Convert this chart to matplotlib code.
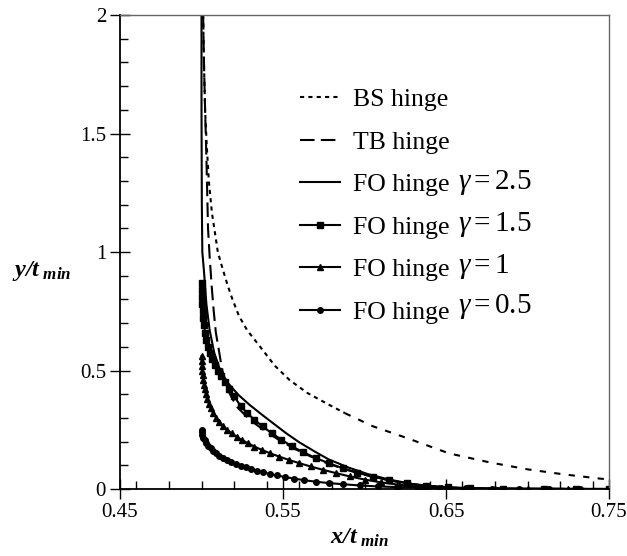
import matplotlib
matplotlib.use("Agg")
import matplotlib.pyplot as plt
from matplotlib.ticker import MultipleLocator, FixedLocator

plt.rcParams['font.family'] = ['Liberation Serif', 'DejaVu Serif']
plt.rcParams['mathtext.fontset'] = 'custom'
plt.rcParams['mathtext.rm'] = 'Liberation Serif'
plt.rcParams['mathtext.it'] = 'Liberation Serif:italic'
plt.rcParams['mathtext.bf'] = 'Liberation Serif:bold:italic'

# BS hinge
bs_x = [0.5010, 0.5015, 0.5022, 0.5032, 0.5045, 0.5064, 0.5085, 0.5100, 0.5125, 0.5160,
        0.5190, 0.5230, 0.5280, 0.5360, 0.5450, 0.5540, 0.5650, 0.5770, 0.5880, 0.6050,
        0.6260, 0.6520, 0.6770, 0.7000, 0.7220, 0.7430, 0.7500]
bs_y = [2.000, 1.800, 1.600, 1.450, 1.300, 1.165, 1.070, 1.000, 0.940, 0.860,
        0.800, 0.730, 0.670, 0.600, 0.520, 0.460, 0.405, 0.360, 0.320, 0.265,
        0.215, 0.150, 0.112, 0.083, 0.062, 0.045, 0.040]

# TB hinge
tb_x = [0.5010, 0.5015, 0.5022, 0.5030, 0.5040, 0.5050, 0.5062, 0.5075, 0.5088, 0.5103,
        0.5120, 0.5138, 0.5160, 0.5190, 0.5220, 0.5270, 0.5330, 0.5400, 0.5480, 0.5570,
        0.5670, 0.5780, 0.5900, 0.6030, 0.6170, 0.6320, 0.6480, 0.6650, 0.6900, 0.7500]
tb_y = [2.000, 1.800, 1.600, 1.400, 1.100, 0.980, 0.860, 0.750, 0.660, 0.600,
        0.530, 0.470, 0.420, 0.380, 0.345, 0.310, 0.275, 0.240, 0.205, 0.170,
        0.137, 0.106, 0.079, 0.055, 0.034, 0.018, 0.008, 0.003, 0.001, 0.000]

# FO hinge, gamma = 2.5
fo25_x = [0.5000, 0.5000, 0.5002, 0.5005, 0.5015, 0.5030, 0.5050, 0.5078, 0.5115, 0.5165,
          0.5225, 0.5295, 0.5370, 0.5440, 0.5520, 0.5600, 0.5690, 0.5780, 0.5900, 0.6020,
          0.6150, 0.6300, 0.6450, 0.6600, 0.6800, 0.7500]
fo25_y = [2.000, 1.600, 1.200, 1.000, 0.920, 0.780, 0.670, 0.575, 0.500, 0.445,
          0.398, 0.355, 0.314, 0.277, 0.235, 0.197, 0.160, 0.125, 0.091, 0.063,
          0.040, 0.020, 0.008, 0.003, 0.001, 0.000]

# FO hinge, gamma = 1.5
fo15_x = [0.5000, 0.5001, 0.5002, 0.5004, 0.5007, 0.5011, 0.5016, 0.5022, 0.5030, 0.5040,
          0.5052, 0.5066, 0.5082, 0.5100, 0.5120, 0.5143, 0.5170, 0.5200, 0.5240, 0.5280,
          0.5325, 0.5375, 0.5430, 0.5490, 0.5555, 0.5625, 0.5700, 0.5780, 0.5865, 0.5955,
          0.6050, 0.6150, 0.6260, 0.6380, 0.6510, 0.6650, 0.6850, 0.7100, 0.7300, 0.7500]
fo15_y = [0.870, 0.840, 0.810, 0.780, 0.750, 0.720, 0.690, 0.660, 0.630, 0.600,
          0.575, 0.550, 0.525, 0.500, 0.475, 0.450, 0.420, 0.392, 0.350, 0.320,
          0.292, 0.264, 0.236, 0.208, 0.180, 0.155, 0.131, 0.109, 0.088, 0.069,
          0.052, 0.037, 0.024, 0.014, 0.007, 0.003, 0.001, 0.000, 0.000, 0.000]

# FO hinge, gamma = 1
fo10_x = [0.5000, 0.5001, 0.5002, 0.5004, 0.5007, 0.5010, 0.5015, 0.5020, 0.5027, 0.5035,
          0.5045, 0.5057, 0.5072, 0.5090, 0.5110, 0.5132, 0.5157, 0.5185, 0.5215, 0.5248,
          0.5285, 0.5325, 0.5370, 0.5420, 0.5475, 0.5535, 0.5600, 0.5670, 0.5745, 0.5825,
          0.5910, 0.6000, 0.6100, 0.6210, 0.6330, 0.6460, 0.6600, 0.6800, 0.7000, 0.7250,
          0.7500]
fo10_y = [0.560, 0.540, 0.520, 0.500, 0.480, 0.460, 0.440, 0.420, 0.400, 0.380,
          0.360, 0.340, 0.320, 0.300, 0.282, 0.266, 0.250, 0.235, 0.221, 0.207,
          0.193, 0.179, 0.165, 0.151, 0.137, 0.123, 0.109, 0.095, 0.081, 0.067,
          0.053, 0.040, 0.028, 0.018, 0.010, 0.005, 0.002, 0.001, 0.000, 0.000,
          0.000]

# FO hinge, gamma = 0.5
fo05_x = [0.5000, 0.5002, 0.5006, 0.5012, 0.5020, 0.5030, 0.5042, 0.5056, 0.5072, 0.5090,
          0.5110, 0.5132, 0.5156, 0.5182, 0.5210, 0.5240, 0.5272, 0.5306, 0.5342, 0.5380,
          0.5420, 0.5465, 0.5515, 0.5570, 0.5630, 0.5700, 0.5780, 0.5870, 0.5970, 0.6080,
          0.6200, 0.6330, 0.6470, 0.6620, 0.6780, 0.6950, 0.7130, 0.7320, 0.7500]
fo05_y = [0.250, 0.240, 0.228, 0.217, 0.205, 0.193, 0.182, 0.171, 0.160, 0.150,
          0.141, 0.132, 0.123, 0.115, 0.107, 0.099, 0.091, 0.084, 0.077, 0.070,
          0.063, 0.057, 0.050, 0.044, 0.037, 0.031, 0.025, 0.020, 0.015, 0.011,
          0.008, 0.006, 0.004, 0.003, 0.002, 0.001, 0.001, 0.000, 0.000]

gammas = ['2.5', '1.5', '1', '0.5']
x_ticks = [0.45, 0.55, 0.65, 0.75]
y_ticks = [0, 0.5, 1, 1.5, 2]

fig = plt.figure(figsize=(6.27, 5.56), dpi=100)
ax = fig.add_axes([0.1914, 0.1205, 0.7799, 0.8525])

lw = 1.5
split = 19  # BS changes dash pattern after x ~ 0.59
l_bs, = ax.plot(bs_x[:split], bs_y[:split], color='black', lw=lw, dashes=(2, 2))
ax.plot(bs_x[split - 1:], bs_y[split - 1:], color='black', lw=lw, dashes=(3, 4))
l_tb, = ax.plot(tb_x, tb_y, color='black', lw=lw, dashes=(7, 3))
l_25, = ax.plot(fo25_x, fo25_y, color='black', lw=lw)
l_15, = ax.plot(fo15_x, fo15_y, color='black', lw=lw, marker='s', ms=4)
l_10, = ax.plot(fo10_x, fo10_y, color='black', lw=lw, marker='^', ms=4)
l_05, = ax.plot(fo05_x, fo05_y, color='black', lw=lw, marker='o', ms=4)

ax.set_xlim(0.45, 0.75)
ax.set_ylim(0, 2)
ax.xaxis.set_major_locator(FixedLocator(x_ticks))
ax.set_xticklabels(['0.45', '0.55', '0.65', '0.75'])
ax.yaxis.set_major_locator(FixedLocator(y_ticks))
ax.set_yticklabels(['0', '0.5', '1', '1.5', '2'])
ax.xaxis.set_minor_locator(MultipleLocator(0.02))
ax.yaxis.set_minor_locator(MultipleLocator(0.1))
ax.tick_params(which='major', direction='inout', length=14, width=1, labelsize=15, pad=3)
ax.tick_params(which='minor', direction='in', length=5.5, width=1)
ax.tick_params(top=False, right=False, which='both')

for s in ['left', 'bottom']:
    ax.spines[s].set_linewidth(1.3)
for s in ['top', 'right']:
    ax.spines[s].set_color('#666666')
    ax.spines[s].set_linewidth(1.0)

ax.set_xlabel(r'$\mathbf{x/t}_{\ \mathbf{min}}$', fontsize=17.5)
ax.xaxis.set_label_coords(0.49, -0.08)
ax.set_ylabel(r'$\mathbf{y/t}_{\ \mathbf{min}}$', fontsize=17.5, rotation=0)
ax.yaxis.set_label_coords(-0.16, 0.434)

leg = ax.legend([l_bs, l_tb, l_25, l_15, l_10, l_05],
                ['BS hinge', 'TB hinge', 'FO hinge', 'FO hinge', 'FO hinge', 'FO hinge'],
                loc='upper left', bbox_to_anchor=(0.368, 0.846), frameon=False,
                fontsize=18.5, handlelength=1.55, handletextpad=0.5, labelspacing=0.76,
                borderpad=0, borderaxespad=0)

row_y = [0.646, 0.557, 0.470, 0.384]
for g, yy in zip(gammas, row_y):
    ax.text(0.691, yy, r'$\gamma = %s$' % g, transform=ax.transAxes,
            fontsize=21, va='center', ha='left')

fig.savefig('out.png', dpi=100)
